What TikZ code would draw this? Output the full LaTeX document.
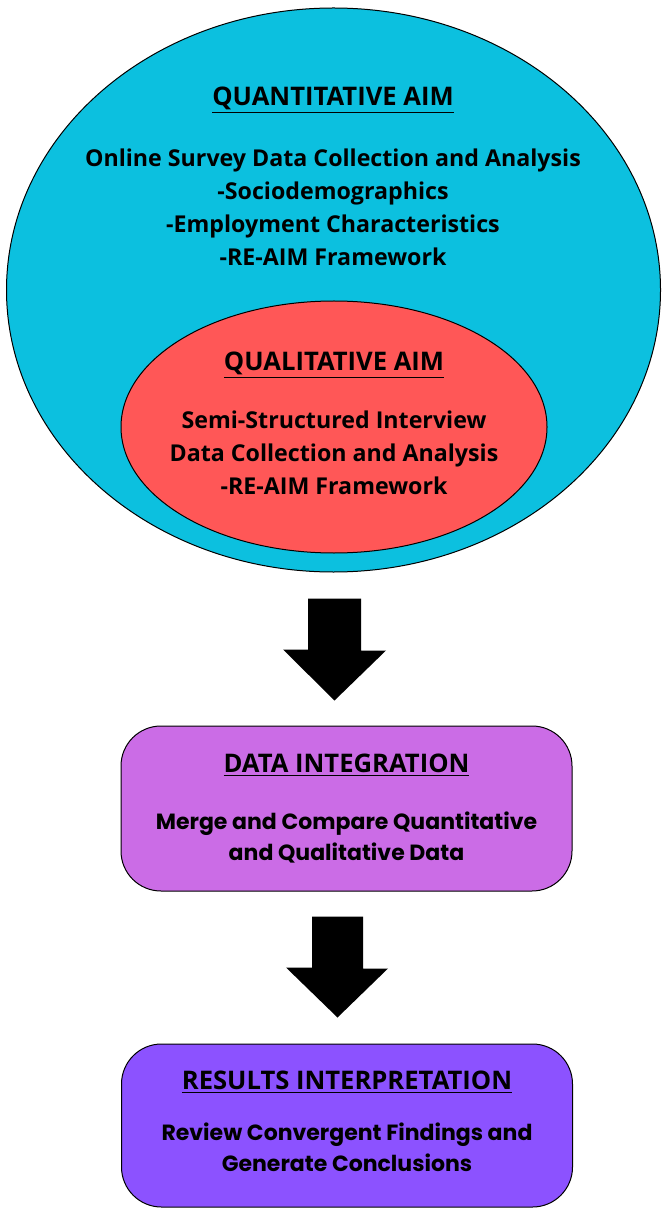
\documentclass[tikz,border=0pt]{standalone}
\usepackage{fontspec}
\setmainfont{Open Sans}
\newfontfamily\boxfont{Poppins}
\usepackage{xcolor}
\usepackage{tikz}
\usetikzlibrary{positioning, shapes.geometric, calc}

\definecolor{quantcyan}{HTML}{0CC0DF}
\definecolor{qualred}{HTML}{FF5757}
\definecolor{integviolet}{HTML}{CB6CE6}
\definecolor{resultpurple}{HTML}{8C52FF}

\begin{document}
\begin{tikzpicture}[x=0.5pt, y=-0.5pt,
    aim/.style={ellipse, draw, line width=0.5pt, inner sep=0pt},
    stagebox/.style={rectangle, draw, line width=0.5pt, rounded corners=20pt, minimum width=225.5pt},
    heading/.style={font=\bfseries\fontsize{12.8}{14}\selectfont},
    body/.style={font=\bfseries\fontsize{11.6}{16.5}\selectfont, align=center},
    boxbody/.style={font=\boxfont\bfseries\fontsize{11}{15.5}\selectfont, align=center},
    blockarrow/.style={fill=black}]
    \useasboundingbox (0,0) rectangle (666,1213);

    % aims
    \node[aim, fill=quantcyan, minimum width=327pt, minimum height=282pt] (quant) at (333.5,290) {};
    \node[heading] (quanttitle) at (333,100) {\underline{QUANTITATIVE AIM}};
    \node[body] (quanttext) at (333,207) {Online Survey Data Collection and Analysis\\-Sociodemographics\\-Employment Characteristics\\-RE-AIM Framework};

    \node[aim, fill=qualred, minimum width=213pt, minimum height=126pt] (qual) at (334,427) {};
    \node[heading] (qualtitle) at (334,365) {\underline{QUALITATIVE AIM}};
    \node[body] (qualtext) at (334,453) {Semi-Structured Interview\\Data Collection and Analysis\\-RE-AIM Framework};

    % stages
    \node[stagebox, fill=integviolet, minimum height=82.5pt] (integ) at (346.5,808.5) {};
    \node[heading] (integtitle) at (346.5,765) {\underline{DATA INTEGRATION}};
    \node[boxbody] (integtext) at (346.5,837.5) {Merge and Compare Quantitative\\and Qualitative Data};

    \node[stagebox, fill=resultpurple, minimum height=81.5pt] (result) at (347,1125.5) {};
    \node[heading] (resulttitle) at (347,1082) {\underline{RESULTS INTERPRETATION}};
    \node[boxbody] (resulttext) at (347,1147.5) {Review Convergent Findings and\\Generate Conclusions};

    % block arrows
    \coordinate (a1top) at ($(quant.south)+(1,26)$);
    \coordinate (a1tip) at ($(integ.north)+(-12,-25)$);
    \fill[blockarrow] (a1top) ++(-26.5,0) -- ++(53,0) -- ++(0,52) -- ++(25,0) -- (a1tip) -- ++(-51.5,-51) -- ++(25,0) -- cycle;

    \coordinate (a2top) at ($(integ.south)+(-9,25)$);
    \coordinate (a2tip) at ($(result.north)+(-9.5,-26)$);
    \fill[blockarrow] (a2top) ++(-25.5,0) -- ++(51,0) -- ++(0,52) -- ++(25,0) -- (a2tip) -- ++(-51.5,-50) -- ++(26,0) -- cycle;
\end{tikzpicture}
\end{document}
